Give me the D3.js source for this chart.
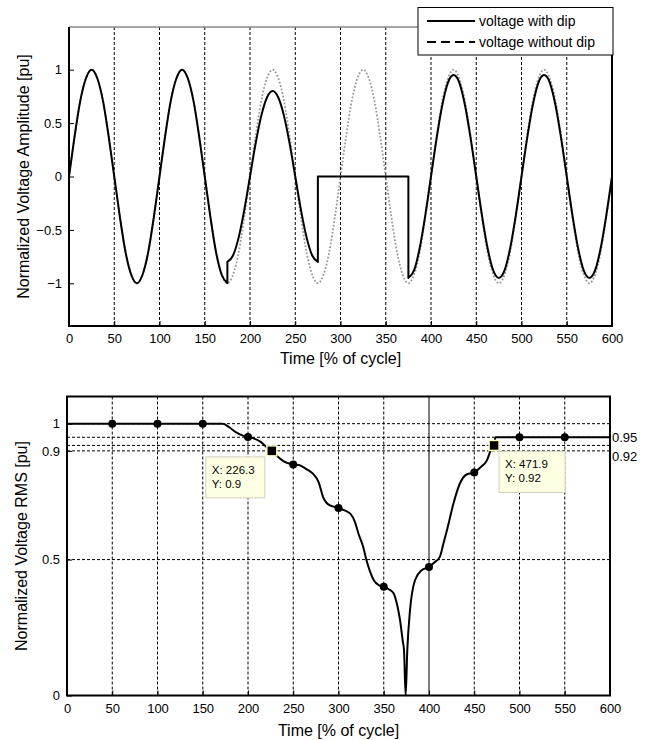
<!DOCTYPE html>
<html>
<head>
<meta charset="utf-8">
<script src="https://cdn.jsdelivr.net/npm/d3@7"></script>
<style>
  body { margin: 0; background: #fff; }
  svg { display: block; font-family: 'Liberation Sans', Arial, sans-serif; }
</style>
</head>
<body>
<div id="container"></div>
<script>
// Voltage dip - waveform (top) and RMS (bottom)

//### DATA ###
//>>> Shared x axis (time in % of cycle)
const timeTicks = [ 0, 50, 100, 150, 200, 250, 300, 350, 400, 450, 500, 550, 600 ];
const gridTimes = [ 50, 100, 150, 200, 250, 300, 350, 400, 450, 500, 550 ];

//>>> Waveforms, evenly sampled between a start and an end time
const noDipSpan = [ 0, 600 ];
const noDipValues = [
  0, 0.38, 0.71, 0.92, 1, 0.92, 0.71, 0.38, 0, -0.38, -0.71, -0.92, -1, -0.92, -0.71, -0.38,
  0, 0.38, 0.71, 0.92, 1, 0.92, 0.71, 0.38, 0, -0.38, -0.71, -0.92, -1, -0.92, -0.71, -0.38,
  0, 0.38, 0.71, 0.92, 1, 0.92, 0.71, 0.38, 0, -0.38, -0.71, -0.92, -1, -0.92, -0.71, -0.38,
  0, 0.38, 0.71, 0.92, 1, 0.92, 0.71, 0.38, 0, -0.38, -0.71, -0.92, -1, -0.92, -0.71, -0.38,
  0, 0.38, 0.71, 0.92, 1, 0.92, 0.71, 0.38, 0, -0.38, -0.71, -0.92, -1, -0.92, -0.71, -0.38,
  0, 0.38, 0.71, 0.92, 1, 0.92, 0.71, 0.38, 0, -0.38, -0.71, -0.92, -1, -0.92, -0.71, -0.38,
  0
];
//--- voltage with dip, one array per piece
const dipSpans = [ [ 0, 175 ], [ 175, 275 ], [ 275, 375 ], [ 375, 600 ] ];
const preDipValues = [
  0, 0.38, 0.71, 0.92, 1, 0.92, 0.71, 0.38, 0, -0.38, -0.71, -0.92, -1, -0.92, -0.71, -0.38,
  0, 0.38, 0.71, 0.92, 1, 0.92, 0.71, 0.38, 0, -0.38, -0.71, -0.92, -1
];
const dipValues = [ -0.8, -0.74, -0.57, -0.31, 0, 0.31, 0.57, 0.74, 0.8, 0.74, 0.57, 0.31, 0, -0.31, -0.57, -0.74, -0.8 ];
const interruptValues = [ 0, 0 ];
const postDipValues = [
  -0.95, -0.88, -0.67, -0.36, 0, 0.36, 0.67, 0.88, 0.95, 0.88, 0.67, 0.36, 0, -0.36, -0.67, -0.88,
  -0.95, -0.88, -0.67, -0.36, 0, 0.36, 0.67, 0.88, 0.95, 0.88, 0.67, 0.36, 0, -0.36, -0.67, -0.88,
  -0.95, -0.88, -0.67, -0.36, 0
];

const ampTicks = [ -1, -0.5, 0, 0.5, 1 ];

//>>> RMS curve
const rmsTime = [
  0, 172, 180, 187, 193, 200, 207, 214, 220, 226.3, 233, 240, 250, 257, 264, 272, 278, 283, 290, 300,
  306, 313, 318, 322, 327, 331, 335, 339, 345, 350, 356, 361, 365, 368, 371, 372.4, 374.2, 376, 379, 384.5,
  391.9, 400, 406, 412, 416, 420, 427, 434, 442, 450, 457, 464, 468, 471.9, 473.5, 500, 550, 600
];
const rmsValue = [
  1, 1, 0.985, 0.968, 0.958, 0.951, 0.945, 0.933, 0.915, 0.9, 0.878, 0.86, 0.85, 0.847, 0.834, 0.815, 0.785, 0.73, 0.7, 0.69,
  0.682, 0.669, 0.64, 0.596, 0.55, 0.497, 0.455, 0.424, 0.405, 0.4, 0.39, 0.375, 0.33, 0.277, 0.2, 0.166, 0, 0.166, 0.313, 0.424,
  0.461, 0.473, 0.49, 0.51, 0.56, 0.61, 0.706, 0.779, 0.814, 0.82, 0.84, 0.865, 0.9, 0.92, 0.95, 0.95, 0.95, 0.95
];
const markerTime = [ 50, 100, 150, 200, 250, 300, 350, 400, 450, 500, 550 ];
const markerValue = [ 1, 1, 1, 0.951, 0.85, 0.69, 0.4, 0.473, 0.82, 0.95, 0.95 ];
const tipTime = [ 226.3, 471.9 ];
const tipValue = [ 0.9, 0.92 ];
const tipSide = [ 'left', 'right' ];

const rmsTicks = [ 0, 0.5, 0.9, 1 ];
const rmsGrid = [ 0.5, 0.9, 0.92, 0.95, 1 ];
const rmsRightLabels = [ '0.95', '0.92' ];
const rmsRightValues = [ 0.95, 0.92 ];


//### SETUP ###
const svg = d3.select( '#container' )
  .append( 'svg' )
  .attr( 'width', 654 )
  .attr( 'height', 740 );

const fmt = d => d3.format( '~g' )( d );
const gridDash = '3,2';

function styleAxis ( g ) {
  g.select( '.domain' ).remove();
  g.attr( 'font-family', null ).attr( 'font-size', null );
  g.selectAll( '.tick line' ).attr( 'stroke', '#000' ).attr( 'stroke-width', 1 );
  g.selectAll( '.tick text' ).style( 'font-size', '13px' ).attr( 'fill', '#000' );
}


//### TOP CHART ###
const xTop = d3.scaleLinear().domain( [ 0, 600 ] ).range( [ 69, 612 ] );
const yTop = d3.scaleLinear().domain( [ -1.4, 1.4 ] ).range( [ 326, 27 ] );

//_____ GRID _____
svg.append( 'g' )
  .selectAll( 'line' )
  .data( gridTimes )
  .join( 'line' )
  .attr( 'x1', d => xTop( d ) )
  .attr( 'x2', d => xTop( d ) )
  .attr( 'y1', yTop( 1.4 ) )
  .attr( 'y2', yTop( -1.4 ) )
  .attr( 'stroke', '#000' )
  .attr( 'stroke-width', 1 )
  .attr( 'stroke-dasharray', gridDash );

//_____ LINES _____
//>>> spread a piece's samples evenly over its time span
const toPoints = ( span, values ) => {
  const step = ( span[ 1 ] - span[ 0 ] ) / ( values.length - 1 );
  return values.map( ( v, i ) => [ span[ 0 ] + i * step, v ] );
};
const waveLine = d3.line()
  .x( d => xTop( d[ 0 ] ) )
  .y( d => yTop( d[ 1 ] ) )
  .curve( d3.curveMonotoneX );

svg.append( 'path' )
  .attr( 'd', waveLine( toPoints( noDipSpan, noDipValues ) ) )
  .attr( 'fill', 'none' )
  .attr( 'stroke', '#9a9a9a' )
  .attr( 'stroke-width', 1.8 )
  .attr( 'stroke-dasharray', '1.8,1.8' );

//>>> join the pieces into one path, jumps drawn as straight steps
const dipPieces = [ preDipValues, dipValues, interruptValues, postDipValues ];
const dipPath = dipPieces
  .map( ( values, i ) => {
    const p = waveLine( toPoints( dipSpans[ i ], values ) );
    return i === 0 ? p : p.replace( /^M/, 'L' );
  } )
  .join( '' );

svg.append( 'path' )
  .attr( 'd', dipPath )
  .attr( 'fill', 'none' )
  .attr( 'stroke', '#000' )
  .attr( 'stroke-width', 2 )
  .attr( 'stroke-linejoin', 'round' );

//_____ AXES _____
svg.append( 'g' )
  .attr( 'transform', `translate(0, ${yTop( -1.4 )})` )
  .call( d3.axisBottom( xTop ).tickValues( timeTicks ).tickSize( -5 ).tickPadding( 8 ).tickFormat( fmt ) )
  .call( styleAxis );

svg.append( 'g' )
  .attr( 'transform', `translate(${xTop( 0 )}, 0)` )
  .call( d3.axisLeft( yTop ).tickValues( ampTicks ).tickSize( -5 ).tickPadding( 7 ).tickFormat( fmt ) )
  .call( styleAxis );

//>>> frame: grey top, black elsewhere
svg.append( 'line' )
  .attr( 'x1', xTop( 0 ) ).attr( 'x2', xTop( 600 ) )
  .attr( 'y1', yTop( 1.4 ) ).attr( 'y2', yTop( 1.4 ) )
  .attr( 'stroke', '#8a8a8a' ).attr( 'stroke-width', 1.5 );
svg.append( 'path' )
  .attr( 'd', `M${xTop( 0 )},${yTop( 1.4 )}V${yTop( -1.4 )}H${xTop( 600 )}V${yTop( 1.4 )}` )
  .attr( 'fill', 'none' )
  .attr( 'stroke', '#000' )
  .attr( 'stroke-width', 2 );

//_____ LABELS _____
svg.append( 'text' )
  .attr( 'x', ( xTop( 0 ) + xTop( 600 ) ) / 2 )
  .attr( 'y', 364 )
  .attr( 'text-anchor', 'middle' )
  .style( 'font-size', '16px' )
  .text( 'Time [% of cycle]' );

svg.append( 'text' )
  .attr( 'transform', `translate(29, ${( yTop( 1.4 ) + yTop( -1.4 ) ) / 2}) rotate(-90)` )
  .attr( 'text-anchor', 'middle' )
  .style( 'font-size', '16px' )
  .text( 'Normalized Voltage Amplitude [pu]' );

//_____ LEGEND _____
const legend = svg.append( 'g' ).attr( 'transform', 'translate(418, 7.5)' );
legend.append( 'rect' )
  .attr( 'width', 195 )
  .attr( 'height', 47.5 )
  .attr( 'fill', '#fff' )
  .attr( 'stroke', '#000' )
  .attr( 'stroke-width', 1 );
const legendItems = [
  { label: 'voltage with dip', dash: null },
  { label: 'voltage without dip', dash: '9,5' }
];
legendItems.forEach( ( item, i ) => {
  const y = 13.5 + i * 21;
  legend.append( 'line' )
    .attr( 'x1', 9 ).attr( 'x2', 57 )
    .attr( 'y1', y ).attr( 'y2', y )
    .attr( 'stroke', '#000' )
    .attr( 'stroke-width', 2 )
    .attr( 'stroke-dasharray', item.dash );
  legend.append( 'text' )
    .attr( 'x', 61 )
    .attr( 'y', y + 5 )
    .style( 'font-size', '14px' )
    .text( item.label );
} );


//### BOTTOM CHART ###
const xBot = d3.scaleLinear().domain( [ 0, 600 ] ).range( [ 67, 610 ] );
const yBot = d3.scaleLinear().domain( [ 0, 1.1 ] ).range( [ 695.5, 396.5 ] );

//_____ GRID _____
svg.append( 'g' )
  .selectAll( 'line' )
  .data( gridTimes )
  .join( 'line' )
  .attr( 'x1', d => xBot( d ) )
  .attr( 'x2', d => xBot( d ) )
  .attr( 'y1', yBot( 1.1 ) )
  .attr( 'y2', yBot( 0 ) )
  .attr( 'stroke', '#000' )
  .attr( 'stroke-width', 1 )
  .attr( 'stroke-dasharray', d => d === 400 ? null : gridDash );

svg.append( 'g' )
  .selectAll( 'line' )
  .data( rmsGrid )
  .join( 'line' )
  .attr( 'x1', xBot( 0 ) )
  .attr( 'x2', xBot( 600 ) )
  .attr( 'y1', d => yBot( d ) )
  .attr( 'y2', d => yBot( d ) )
  .attr( 'stroke', '#000' )
  .attr( 'stroke-width', 1 )
  .attr( 'stroke-dasharray', gridDash );

//_____ RMS LINE _____
const rmsLine = d3.line()
  .x( ( d, i ) => xBot( rmsTime[ i ] ) )
  .y( d => yBot( d ) )
  .curve( d3.curveMonotoneX );

svg.append( 'path' )
  .attr( 'd', rmsLine( rmsValue ) )
  .attr( 'fill', 'none' )
  .attr( 'stroke', '#000' )
  .attr( 'stroke-width', 2 )
  .attr( 'stroke-linejoin', 'round' );

svg.append( 'g' )
  .selectAll( 'circle' )
  .data( markerTime )
  .join( 'circle' )
  .attr( 'cx', d => xBot( d ) )
  .attr( 'cy', ( d, i ) => yBot( markerValue[ i ] ) )
  .attr( 'r', 4 )
  .attr( 'fill', '#000' );

//_____ DATA TIPS _____
tipTime.forEach( ( t, i ) => {
  const mx = xBot( t );
  const my = yBot( tipValue[ i ] );
  const w = tipSide[ i ] === 'left' ? 59 : 66;
  const bx = tipSide[ i ] === 'left' ? mx - 66 : mx + 5;
  const by = my + 6;

  svg.append( 'rect' )
    .attr( 'x', bx ).attr( 'y', by )
    .attr( 'width', w ).attr( 'height', 41 )
    .attr( 'fill', '#ffffe3' )
    .attr( 'stroke', '#d0d0c0' )
    .attr( 'stroke-width', 1 );
  svg.append( 'text' )
    .attr( 'x', bx + 6 ).attr( 'y', by + 17 )
    .style( 'font-size', '11.5px' )
    .text( `X: ${t}` );
  svg.append( 'text' )
    .attr( 'x', bx + 6 ).attr( 'y', by + 31 )
    .style( 'font-size', '11.5px' )
    .text( `Y: ${tipValue[ i ]}` );

  svg.append( 'rect' )
    .attr( 'x', mx - 5 ).attr( 'y', my - 5 )
    .attr( 'width', 10 ).attr( 'height', 10 )
    .attr( 'fill', '#000' )
    .attr( 'stroke', '#ffffc0' )
    .attr( 'stroke-width', 1.5 );
} );

//_____ AXES _____
svg.append( 'g' )
  .attr( 'transform', `translate(0, ${yBot( 0 )})` )
  .call( d3.axisBottom( xBot ).tickValues( timeTicks ).tickSize( -5 ).tickPadding( 8 ).tickFormat( fmt ) )
  .call( styleAxis );

svg.append( 'g' )
  .attr( 'transform', `translate(${xBot( 0 )}, 0)` )
  .call( d3.axisLeft( yBot ).tickValues( rmsTicks ).tickSize( -5 ).tickPadding( 7 ).tickFormat( fmt ) )
  .call( styleAxis );

svg.append( 'rect' )
  .attr( 'x', xBot( 0 ) ).attr( 'y', yBot( 1.1 ) )
  .attr( 'width', xBot( 600 ) - xBot( 0 ) )
  .attr( 'height', yBot( 0 ) - yBot( 1.1 ) )
  .attr( 'fill', 'none' )
  .attr( 'stroke', '#000' )
  .attr( 'stroke-width', 2 );

//>>> right-hand value labels
svg.append( 'g' )
  .selectAll( 'text' )
  .data( rmsRightLabels )
  .join( 'text' )
  .attr( 'x', xBot( 600 ) + 2 )
  .attr( 'y', ( d, i ) => yBot( rmsRightValues[ i ] ) )
  .attr( 'dy', ( d, i ) => i === 0 ? '0.35em' : '1.2em' )
  .style( 'font-size', '13px' )
  .text( d => d );

//_____ LABELS _____
svg.append( 'text' )
  .attr( 'x', ( xBot( 0 ) + xBot( 600 ) ) / 2 )
  .attr( 'y', 736 )
  .attr( 'text-anchor', 'middle' )
  .style( 'font-size', '16px' )
  .text( 'Time [% of cycle]' );

svg.append( 'text' )
  .attr( 'transform', `translate(27, ${( yBot( 1.1 ) + yBot( 0 ) ) / 2}) rotate(-90)` )
  .attr( 'text-anchor', 'middle' )
  .style( 'font-size', '16px' )
  .text( 'Normalized Voltage RMS [pu]' );
</script>
</body>
</html>
